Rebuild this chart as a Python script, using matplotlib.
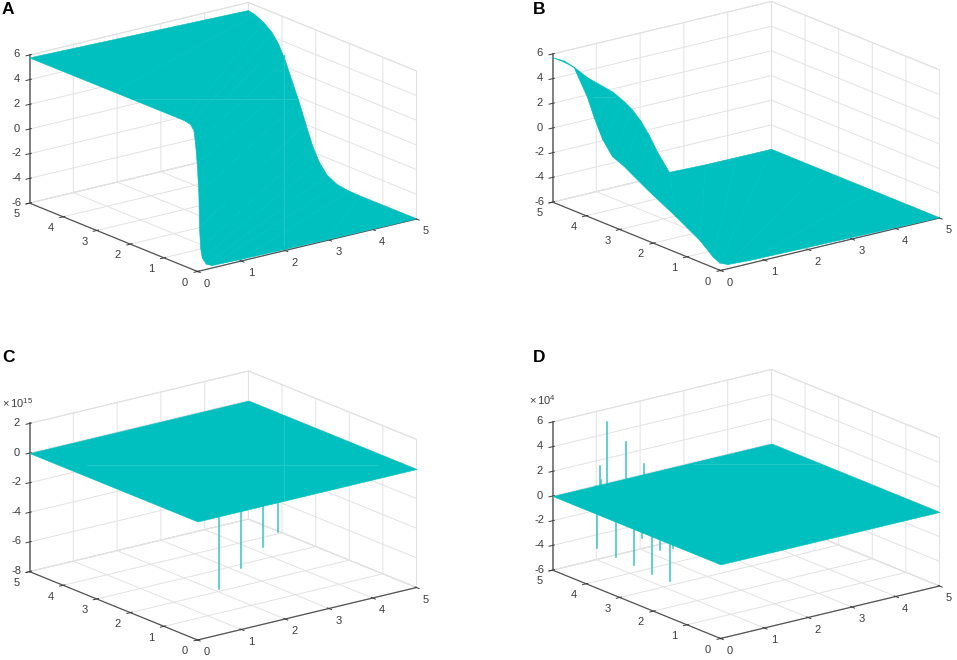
import numpy as np
import matplotlib
matplotlib.use('Agg')
import matplotlib.pyplot as plt
from matplotlib.lines import Line2D

plt.rcParams['font.family'] = ['Liberation Sans', 'DejaVu Sans']
plt.rcParams['mathtext.default'] = 'regular'
plt.rcParams['axes.unicode_minus'] = False

TEAL = '#00bfbf'
SPIKE = '#35c6c2'
SEAM = '#22c8c8'
GRID = '#e2e2e2'
DARK = '#555555'
TEXT = '#3c3c3c'

ticks_xy = [0, 1, 2, 3, 4, 5]
ticks_z_ab = [-6, -4, -2, 0, 2, 4, 6]
ticks_z_c = [-8, -6, -4, -2, 0, 2]
ticks_z_d = [-6, -4, -2, 0, 2, 4, 6]

# panel A, the two edges of the sheet
a_edge1_x = [0, 0, 0, 0, 0, 0, 0, 0.03, 0.045, 0.07, 0.107, 0.2, 0.33, 0.98, 3, 5]
a_edge1_y = [5, 2.5, 0.41, 0.21, 0.11, 0.06, 0.01, 0, 0, 0, 0, 0, 0, 0, 0, 0]
a_edge1_z = [5.76, 5.78, 5.79, 5.68, 5.3, 4.3, 2.73, 0.26, -2.51, -4.16, -5, -5.58, -5.8, -5.87, -5.95, -5.98]
a_edge2_x = [5, 5, 5, 5, 5, 5, 5, 5, 5, 5, 5, 5, 5, 5, 5, 5]
a_edge2_y = [5, 4.8, 4.55, 4.3, 4.1, 3.9, 3.7, 3.5, 3.3, 3.1, 2.9, 2.66, 2.36, 2.0, 1.7, 0]
a_edge2_z = [5.35, 5.22, 4.89, 4.35, 3.62, 2.49, 1.08, -0.33, -1.89, -3.43, -4.56, -5.39, -5.82, -5.96, -6, -5.98]

# panel B
b_edge1_x = [0, 0.28, 0.51, 0.81, 1.11, 1.38, 1.64, 1.83, 2.02, 2.21, 2.4, 2.67, 3.5, 4.2, 5, 5, 5, 5]
b_edge1_y = [5, 5, 5, 5, 5, 5, 5, 5, 5, 5, 5, 5, 5, 5, 5, 3.5, 2, 0]
b_edge1_z = [5.71, 5.18, 4.45, 3.37, 2.51, 1.74, 0.74, -0.1, -1.16, -2.47, -4, -5.86, -5.95, -5.97, -5.98, -5.98, -5.98, -5.98]
b_edge2_x = [0, 0, 0, 0, 0, 0, 0, 0, 0, 0, 0, 0, 0, 0, 0, 0.17, 0.66, 5]
b_edge2_y = [5, 4.66, 4.36, 4.16, 3.96, 3.76, 3.51, 3.22, 2.87, 2.47, 2.12, 1.32, 0.62, 0.22, 0.02, 0, 0, 0]
b_edge2_z = [5.71, 5.72, 5.62, 4.62, 3.62, 2.21, 0.72, -0.33, -0.75, -1.4, -1.96, -3.12, -4.24, -5.16, -5.43, -5.66, -5.76, -5.98]

# panels C and D, flat sheet
sheet_x = [0, 5]
sheet_y = [0, 5]
sheet_z = [[0, 0], [0, 0]]

# panel C spikes, in units of 1e15
c_spike_x = [2.0, 3.05, 4.13, 4.87]
c_spike_y = [1.96, 2.67, 3.43, 3.96]
c_spike_z = [-7.8, -7.8, -7.8, -7.8]

# panel D spikes, in units of 1e4
d_spike_x = [0.5, 0.5, 0.5, 0.5, 0.5, 0.5, 0.5, 0.5, 0.85, 0.92, 0.95, 1.1, 1.52, 1.93]
d_spike_y = [4.32, 3.77, 3.23, 2.7, 2.16, 2.98, 2.44, 2.07, 4.8, 4.8, 4.8, 4.8, 4.8, 4.8]
d_spike_z = [-3.91, -4.03, -4.09, -4.16, -4.13, -1.6, -1.95, -1.4, 0.35, 1.88, 0.7, 5.26, 3.28, 1.2]


def painel(cx, cy, ticks_z, letra, letra_x, letra_y):
    W = 400
    left = (cx - 0.5135*W)/957
    bottom = (660 - (cy + 0.5135*W))/660
    ax = fig.add_axes([left, bottom, W/957, W/660], projection='3d', proj_type='ortho')
    ax.patch.set_alpha(0)
    ax.view_init(elev=18.2, azim=-127.5)
    ax.set_box_aspect((1, 1, 0.565), zoom=1.02)
    ax.computed_zorder = False
    ax.set_xlim(0, 5, view_margin=0)
    ax.set_ylim(0, 5, view_margin=0)
    ax.set_zlim(ticks_z[0], ticks_z[-1], view_margin=0)
    ax.set_xticks(ticks_xy)
    ax.set_yticks(ticks_xy)
    ax.set_zticks(ticks_z)
    ax.tick_params(labelsize=8, colors=TEXT, pad=0.5)
    ax.tick_params(axis='z', pad=-3)
    for t in ax.get_xticklabels() + ax.get_yticklabels() + ax.get_zticklabels():
        t.set_va('center')
    for eixo in [ax.xaxis, ax.yaxis, ax.zaxis]:
        eixo.set_pane_color((1, 1, 1, 1))
        eixo.pane.set_edgecolor('#dcdcdc')
        eixo.pane.set_linewidth(0.7)
        eixo.line.set_color(DARK)
        eixo.line.set_linewidth(0.9)
        eixo._axinfo['grid']['color'] = GRID
        eixo._axinfo['grid']['linewidth'] = 0.7
        eixo._axinfo['tick']['color'] = DARK
        eixo._axinfo['tick']['linewidth'] = {True: 0.7, False: 0.5}
    ax.zaxis.line.set_color('#777777')
    ax.zaxis.line.set_linewidth(1.3)
    fig.text(letra_x/957, 1 - letra_y/660, letra, fontsize=12.5, fontweight='bold',
             color='black', va='center', ha='left')
    return ax


def superficie(ax, x1, y1, z1, x2, y2, z2):
    X = np.array([x1, x2], dtype=float)
    Y = np.array([y1, y2], dtype=float)
    Z = np.array([z1, z2], dtype=float)
    ax.plot_surface(X, Y, Z, color=TEAL, shade=False, edgecolor=TEAL,
                    linewidth=0.4, rstride=1, cstride=1, zorder=3)


def placa(ax):
    X, Y = np.meshgrid(sheet_x, sheet_y)
    ax.plot_surface(X, Y, np.array(sheet_z, dtype=float), color=TEAL, shade=False,
                    edgecolor=TEAL, linewidth=0.4, zorder=3)


def espinhos(ax, xs, ys, zs):
    for x, y, z in zip(xs, ys, zs):
        ax.plot([x, x], [y, y], [0, z], color=SPIKE, linewidth=1.1, zorder=2)


def costura(x0, y0, x1, y1):
    # faint seams that cross the sheets in the scan
    fig.add_artist(Line2D([x0/957, x1/957], [1 - y0/660, 1 - y1/660], color=SEAM, linewidth=0.8))


fig = plt.figure(figsize=(9.57, 6.6), dpi=100)

axA = painel(223, 137, ticks_z_ab, 'A', 2, 10)
superficie(axA, a_edge1_x, a_edge1_y, a_edge1_z, a_edge2_x, a_edge2_y, a_edge2_z)

axB = painel(746, 136, ticks_z_ab, 'B', 533, 10)
superficie(axB, b_edge1_x, b_edge1_y, b_edge1_z, b_edge2_x, b_edge2_y, b_edge2_z)

axC = painel(223, 505.5, ticks_z_c, 'C', 2, 357)
placa(axC)
espinhos(axC, c_spike_x, c_spike_y, c_spike_z)

axD = painel(746, 504, ticks_z_d, 'D', 533, 357)
placa(axD)
espinhos(axD, d_spike_x, d_spike_y, d_spike_z)

costura(135, 98.5, 296, 98.5)
costura(284, 55, 284, 246)
costura(593, 97, 615, 97)
costura(284, 418, 284, 500)
costura(87, 465, 377, 465)
costura(693, 464, 820, 464)

fig.text(2/957, 1 - 403/660, r'$\times\,10^{15}$', fontsize=8, color=TEXT, va='center')
fig.text(529/957, 1 - 400/660, r'$\times\,10^{4}$', fontsize=8, color=TEXT, va='center')

fig.savefig('out.png', dpi=100)
